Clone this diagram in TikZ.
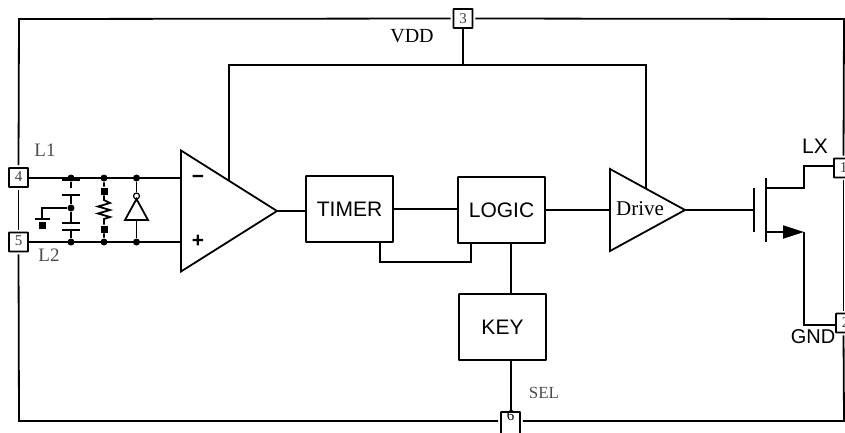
\documentclass[tikz,border=0pt]{standalone}
\usepackage{fontspec}
\setmainfont{Liberation Serif}
\newfontfamily\arialfont{Liberation Sans}
\usetikzlibrary{arrows.meta, positioning, shapes.geometric}

\begin{document}
\begin{tikzpicture}[
        x=1pt, y=-1pt,
        line width=1.8pt,
        wire/.style={draw},
        frameline/.style={draw, shorten >=2pt, shorten <=2pt},
        pinbox/.style={draw, fill=white, rounded corners=0.5pt, minimum size=19pt, inner sep=0pt, text=black!75, font=\fontsize{15}{15}\selectfont},
        block/.style={draw, rounded corners=0.5pt, inner sep=0pt, minimum width=87pt, minimum height=66pt, font=\arialfont\fontsize{21}{21}\selectfont},
        amp/.style={draw, isosceles triangle, isosceles triangle stretches, inner sep=0pt, outer sep=0pt, anchor=lower side},
        name label/.style={inner sep=0pt, text=black!70, font=\fontsize{19}{19}\selectfont},
        dot/.style={circle, fill=black, inner sep=0pt, minimum size=7pt},
        pad/.style={rectangle, fill=black, inner sep=0pt, minimum size=7pt}
    ]
    \useasboundingbox (0,0) rectangle (845,432);
    \clip (0,0) rectangle (845,432);

    % Pins
    \node[pinbox] (pin3) at (463,18.5) {3};
    \node[pinbox] (pin4) at (18.5,177.5) {\raisebox{2pt}{4}};
    \node[pinbox] (pin5) at (18.5,242) {\raisebox{2pt}{5}};
    \node[pinbox] (pin1) at (843.5,168) {1};
    \node[pinbox] (pin2) at (845.5,323) {2};
    \node[pinbox, minimum height=30pt] (pin6) at (510.5,427) {};
    \node[inner sep=0pt, font=\fontsize{15}{15}\selectfont] (pin6num) at (510.5,416) {6};

    % Blocks
    \node[amp, minimum width=121pt, minimum height=96pt] (comp) at (181,211) {};
    \node[block] (timer) at (349.5,209) {TIMER};
    \node[block] (logic) at (501.5,210) {LOGIC};
    \node[block] (key) at (502.5,327) {KEY};
    \node[amp, minimum width=82pt, minimum height=75pt] (drive) at (610,210) {};
    \node[inner sep=0pt, font=\fontsize{21}{21}\selectfont] (drivetext) at (640,209) {Drive};

    % Labels
    \node[name label] (l1) at (45,150) {L1};
    \node[name label] (l2) at (49,255) {L2};
    \node[name label, text=black, font=\fontsize{20}{20}\selectfont] (vdd) at (412,36) {VDD};
    \node[name label, font=\fontsize{17}{17}\selectfont] (sel) at (544,393) {SEL};
    \node[inner sep=0pt, font=\arialfont\fontsize{21}{21}\selectfont] (lx) at (815,146) {LX};
    \node[inner sep=0pt, font=\arialfont\fontsize{20}{20}\selectfont] (gnd) at (813,337) {GND};
    \node[inner sep=0pt, font=\arialfont\bfseries\fontsize{21}{21}\selectfont] (minus) at (198,179) {−};
    \node[inner sep=0pt, font=\arialfont\bfseries\fontsize{21}{21}\selectfont] (plus) at (198,241) {+};

    % Points on the wires
    \coordinate (cornertl) at (19,19);
    \coordinate (cornertr) at (844,19);
    \coordinate (cornerbl) at (19,421);
    \coordinate (cornerbr) at (844,421);
    \coordinate (railcomp) at (229,65);
    \coordinate (raildrive) at (646,65);
    \coordinate (compvdd) at (229,181);
    \coordinate (drivevdd) at (646,189);
    \coordinate (in1) at (181,178);
    \coordinate (in2) at (181,242);

    % Outer frame
    \path[frameline] (pin3.east) -- (cornertr) -- (pin1.north);
    \path[frameline] (pin1.south) -- (pin2.north -| pin1.south);
    \path[frameline] (pin2.south -| pin1.south) -- (cornerbr) -- (pin6.east |- cornerbr);
    \path[frameline] (pin6.west |- cornerbl) -- (cornerbl) -- (pin5.south);
    \path[frameline] (pin5.north) -- (pin4.south);
    \path[frameline] (pin4.north) -- (cornertl) -- (pin3.west);

    % Connections
    \draw[wire] (pin3.south) -- (pin3 |- railcomp);
    \draw[wire] (compvdd) -- (railcomp) -- (raildrive) -- (drivevdd);
    \draw[wire] (comp.apex) -- (comp.apex -| timer.west);
    \draw[wire] (timer.east) -- (timer.east -| logic.west);
    \draw[wire] (logic.east) -- (drive.lower side);
    \draw[wire] (timer.south -| 380,0) -- (380,262) -- (471,262) -- (logic.south -| 471,0);
    \draw[wire] (logic.south -| 511,0) -- (key.north -| 511,0);
    \draw[wire] (key.south -| 511,0) -- (pin6.north -| 511,0);

    % Input network
    \draw[wire] (pin4.east |- in1) -- (in1);
    \draw[wire] (pin5.east |- in2) -- (in2);
    \node[dot] (captop) at (71,178) {};
    \node[dot] (capmid) at (71,208) {};
    \node[dot] (capbot) at (71,242) {};
    \node[dot] (restop) at (104,178) {};
    \node[dot] (resbot) at (104,242) {};
    \node[dot] (invtop) at (136.5,178) {};
    \node[dot] (invbot) at (136.5,242) {};
    \draw[wire, line width=2.5pt] (62,180) -- (80,180);
    \draw[wire] (captop) -- (71,188) (62,195) -- (80,195) (71,195) -- (capmid) -- (71,223);
    \draw[wire] (62,223) -- (80,223) (62,230) -- (80,230) (71,230) -- (capbot);
    \draw[wire] (capmid) -- (42,208) -- (42,219);
    \draw[wire] (35,219) -- (50,219);
    \node[pad] (gndpad) at (42,225) {};
    \node[pad] (padtop) at (104,191) {};
    \node[pad] (padbot) at (104,229) {};
    \draw[wire] (restop) -- (padtop) -- (104,200) -- (110,203) -- (98,206.5) -- (110,210) -- (98,213.5) -- (110,217) -- (104,219) -- (padbot) -- (resbot);
    \node[draw, circle, line width=1.2pt, inner sep=0pt, minimum size=6pt] (bubble) at (136.5,196) {};
    \draw[wire, line join=miter] (136.5,199) -- (148,220) -- (125,220) -- cycle;
    \draw[wire] (invtop) -- (bubble);
    \draw[wire] (136.5,220) -- (invbot);

    % Output transistor
    \coordinate (drainup) at (804,188);
    \coordinate (sourceend) at (804,232);
    \draw[wire] (drive.apex) -- (754,210);
    \draw[wire] (754,188) -- (754,232);
    \draw[wire] (766,178) -- (766,242);
    \draw[wire] (766,188) -- (drainup) -- (804,166) -- (pin1.west |- 0,166);
    \draw[wire, -{Triangle[length=21pt,width=13pt]}] (766,232) -- (sourceend);
    \draw[wire] (sourceend) -- (804,325) -- (pin2.west |- 0,325);
\end{tikzpicture}
\end{document}
